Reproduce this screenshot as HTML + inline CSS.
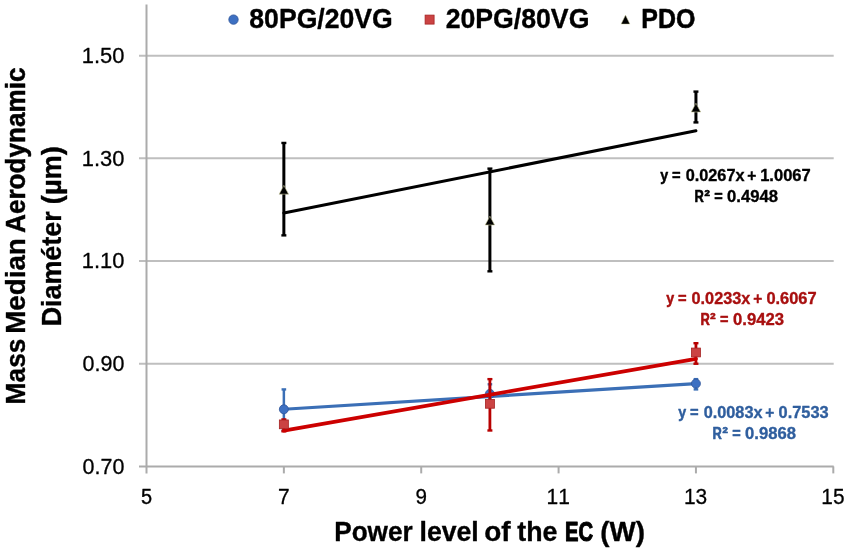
<!DOCTYPE html>
<html><head><meta charset="utf-8"><style>
html,body{margin:0;padding:0;background:#fff;width:850px;height:551px;overflow:hidden}
svg{display:block;font-family:"Liberation Sans", sans-serif;font-kerning:none;filter:blur(0.35px)}
</style></head><body>
<svg width="850" height="551" viewBox="0 0 850 551">
<rect width="850" height="551" fill="#fff"/>
<line x1="139" y1="363.74" x2="833.7" y2="363.74" stroke="#BFBFBF" stroke-width="2"/>
<line x1="139" y1="261.05" x2="833.7" y2="261.05" stroke="#BFBFBF" stroke-width="2"/>
<line x1="139" y1="158.35" x2="833.7" y2="158.35" stroke="#BFBFBF" stroke-width="2"/>
<line x1="139" y1="55.66" x2="833.7" y2="55.66" stroke="#BFBFBF" stroke-width="2"/>
<line x1="139" y1="466.43" x2="833.7" y2="466.43" stroke="#ABABAB" stroke-width="2"/>
<line x1="146.50" y1="4.4" x2="146.50" y2="473.4" stroke="#ABABAB" stroke-width="2"/>
<line x1="283.86" y1="466.43" x2="283.86" y2="473.4" stroke="#ABABAB" stroke-width="2"/>
<line x1="421.22" y1="466.43" x2="421.22" y2="473.4" stroke="#ABABAB" stroke-width="2"/>
<line x1="558.58" y1="466.43" x2="558.58" y2="473.4" stroke="#ABABAB" stroke-width="2"/>
<line x1="695.94" y1="466.43" x2="695.94" y2="473.4" stroke="#ABABAB" stroke-width="2"/>
<line x1="833.30" y1="466.43" x2="833.30" y2="473.4" stroke="#ABABAB" stroke-width="2"/>
<line x1="283.86" y1="389.41" x2="283.86" y2="430.49" stroke="#3B6FB6" stroke-width="2.5"/><line x1="281.56" y1="430.49" x2="286.16" y2="430.49" stroke="#3B6FB6" stroke-width="2.4"/><line x1="281.56" y1="389.41" x2="286.16" y2="389.41" stroke="#3B6FB6" stroke-width="2.4"/>
<line x1="489.90" y1="384.28" x2="489.90" y2="404.81" stroke="#3B6FB6" stroke-width="2.5"/><line x1="487.60" y1="404.81" x2="492.20" y2="404.81" stroke="#3B6FB6" stroke-width="2.4"/><line x1="487.60" y1="384.28" x2="492.20" y2="384.28" stroke="#3B6FB6" stroke-width="2.4"/>
<line x1="695.94" y1="379.14" x2="695.94" y2="389.41" stroke="#3B6FB6" stroke-width="2.5"/><line x1="693.64" y1="389.41" x2="698.24" y2="389.41" stroke="#3B6FB6" stroke-width="2.4"/><line x1="693.64" y1="379.14" x2="698.24" y2="379.14" stroke="#3B6FB6" stroke-width="2.4"/>
<line x1="283.86" y1="409.23" x2="695.94" y2="383.66" stroke="#3B6FB6" stroke-width="3.2" stroke-linecap="round"/>
<circle cx="283.86" cy="409.25" r="4.5" fill="#3D70C2" stroke="#2E5499" stroke-width="0.8"/>
<circle cx="489.90" cy="393.85" r="4.5" fill="#3D70C2" stroke="#2E5499" stroke-width="0.8"/>
<circle cx="695.94" cy="383.58" r="4.5" fill="#3D70C2" stroke="#2E5499" stroke-width="0.8"/>
<line x1="283.86" y1="419.45" x2="283.86" y2="431.26" stroke="#B80000" stroke-width="2.8"/><line x1="281.36" y1="431.26" x2="286.36" y2="431.26" stroke="#B80000" stroke-width="2.4"/><line x1="281.36" y1="419.45" x2="286.36" y2="419.45" stroke="#B80000" stroke-width="2.4"/>
<line x1="489.90" y1="379.14" x2="489.90" y2="430.49" stroke="#B80000" stroke-width="2.8"/><line x1="487.40" y1="430.49" x2="492.40" y2="430.49" stroke="#B80000" stroke-width="2.4"/><line x1="487.40" y1="379.14" x2="492.40" y2="379.14" stroke="#B80000" stroke-width="2.4"/>
<line x1="695.94" y1="343.20" x2="695.94" y2="363.74" stroke="#B80000" stroke-width="2.8"/><line x1="693.44" y1="363.74" x2="698.44" y2="363.74" stroke="#B80000" stroke-width="2.4"/><line x1="693.44" y1="343.20" x2="698.44" y2="343.20" stroke="#B80000" stroke-width="2.4"/>
<line x1="283.86" y1="430.59" x2="695.94" y2="358.81" stroke="#CC0000" stroke-width="3.8" stroke-linecap="round"/>
<rect x="279.36" y="419.95" width="9" height="8.8" fill="#CB4343" stroke="#A52222" stroke-width="0.8"/>
<rect x="485.40" y="399.41" width="9" height="8.8" fill="#CB4343" stroke="#A52222" stroke-width="0.8"/>
<rect x="691.44" y="348.07" width="9" height="8.8" fill="#CB4343" stroke="#A52222" stroke-width="0.8"/>
<line x1="283.86" y1="142.95" x2="283.86" y2="235.37" stroke="#000000" stroke-width="3"/><line x1="281.36" y1="235.37" x2="286.36" y2="235.37" stroke="#000000" stroke-width="2.4"/><line x1="281.36" y1="142.95" x2="286.36" y2="142.95" stroke="#000000" stroke-width="2.4"/>
<line x1="489.90" y1="168.62" x2="489.90" y2="271.32" stroke="#000000" stroke-width="3"/><line x1="487.40" y1="271.32" x2="492.40" y2="271.32" stroke="#000000" stroke-width="2.4"/><line x1="487.40" y1="168.62" x2="492.40" y2="168.62" stroke="#000000" stroke-width="2.4"/>
<line x1="695.94" y1="91.60" x2="695.94" y2="122.41" stroke="#000000" stroke-width="3"/><line x1="693.44" y1="122.41" x2="698.44" y2="122.41" stroke="#000000" stroke-width="2.4"/><line x1="693.44" y1="91.60" x2="698.44" y2="91.60" stroke="#000000" stroke-width="2.4"/>
<line x1="283.86" y1="212.99" x2="695.94" y2="130.73" stroke="#000000" stroke-width="3" stroke-linecap="round"/>
<path d="M279.16,194.16 L283.86,185.36 L288.56,194.16 Z" fill="#000" stroke="#C8C89A" stroke-width="0.6"/>
<path d="M485.20,224.97 L489.90,216.17 L494.60,224.97 Z" fill="#000" stroke="#C8C89A" stroke-width="0.6"/>
<path d="M691.24,112.01 L695.94,103.21 L700.64,112.01 Z" fill="#000" stroke="#C8C89A" stroke-width="0.6"/>
<text x="82.61" y="473.73" font-size="22.2" font-weight="400" fill="#000" stroke="#000" stroke-width="0.30" stroke-linejoin="round" textLength="41.79" lengthAdjust="spacingAndGlyphs">0.70</text>
<text x="82.61" y="371.04" font-size="22.2" font-weight="400" fill="#000" stroke="#000" stroke-width="0.30" stroke-linejoin="round" textLength="41.79" lengthAdjust="spacingAndGlyphs">0.90</text>
<text x="81.78" y="268.35" font-size="22.2" font-weight="400" fill="#000" stroke="#000" stroke-width="0.30" stroke-linejoin="round" textLength="42.63" lengthAdjust="spacingAndGlyphs">1.10</text>
<text x="81.78" y="165.65" font-size="22.2" font-weight="400" fill="#000" stroke="#000" stroke-width="0.30" stroke-linejoin="round" textLength="42.63" lengthAdjust="spacingAndGlyphs">1.30</text>
<text x="81.78" y="62.96" font-size="22.2" font-weight="400" fill="#000" stroke="#000" stroke-width="0.30" stroke-linejoin="round" textLength="42.63" lengthAdjust="spacingAndGlyphs">1.50</text>
<text x="140.98" y="504.00" font-size="22.2" font-weight="400" fill="#000" stroke="#000" stroke-width="0.39" stroke-linejoin="round" textLength="11.09" lengthAdjust="spacingAndGlyphs">5</text>
<text x="278.03" y="504.00" font-size="22.2" font-weight="400" fill="#000" stroke="#000" stroke-width="0.30" stroke-linejoin="round" textLength="11.64" lengthAdjust="spacingAndGlyphs">7</text>
<text x="415.49" y="504.00" font-size="22.2" font-weight="400" fill="#000" stroke="#000" stroke-width="0.30" stroke-linejoin="round" textLength="11.46" lengthAdjust="spacingAndGlyphs">9</text>
<text x="546.62" y="504.00" font-size="22.2" font-weight="400" fill="#000" stroke="#000" stroke-width="0.30" stroke-linejoin="round" textLength="23.34" lengthAdjust="spacingAndGlyphs">11</text>
<text x="683.99" y="504.00" font-size="22.2" font-weight="400" fill="#000" stroke="#000" stroke-width="0.30" stroke-linejoin="round" textLength="23.23" lengthAdjust="spacingAndGlyphs">13</text>
<text x="821.35" y="504.00" font-size="22.2" font-weight="400" fill="#000" stroke="#000" stroke-width="0.30" stroke-linejoin="round" textLength="23.18" lengthAdjust="spacingAndGlyphs">15</text>
<circle cx="233.5" cy="19.6" r="4.7" fill="#3D70C2" stroke="#2E5499" stroke-width="0.8"/>
<text x="249.33" y="28.00" font-size="26.9" font-weight="700" fill="#000" stroke="#000" stroke-width="0.35" stroke-linejoin="round" textLength="143.45" lengthAdjust="spacingAndGlyphs">80PG/20VG</text>
<rect x="425.1" y="15.1" width="9" height="9" fill="#CB4343" stroke="#A52222" stroke-width="0.8"/>
<text x="445.65" y="28.00" font-size="26.9" font-weight="700" fill="#000" stroke="#000" stroke-width="0.35" stroke-linejoin="round" textLength="143.73" lengthAdjust="spacingAndGlyphs">20PG/80VG</text>
<path d="M621.1,24.1 L625.5,15.1 L629.9,24.1 Z" fill="#000" stroke="#D4D4A8" stroke-width="0.5"/>
<text x="641.37" y="28.00" font-size="26.9" font-weight="700" fill="#000" stroke="#000" stroke-width="0.51" stroke-linejoin="round" textLength="54.05" lengthAdjust="spacingAndGlyphs">PDO</text>
<text x="334.22" y="540.60" font-size="27.6" font-weight="700" fill="#000" stroke="#000" stroke-width="0.35" stroke-linejoin="round" textLength="78.41" lengthAdjust="spacingAndGlyphs">Power</text>
<text x="419.51" y="540.60" font-size="27.6" font-weight="700" fill="#000" stroke="#000" stroke-width="0.35" stroke-linejoin="round" textLength="59.21" lengthAdjust="spacingAndGlyphs">level</text>
<text x="484.19" y="540.60" font-size="27.6" font-weight="700" fill="#000" stroke="#000" stroke-width="0.35" stroke-linejoin="round" textLength="26.38" lengthAdjust="spacingAndGlyphs">of</text>
<text x="517.24" y="540.60" font-size="27.6" font-weight="700" fill="#000" stroke="#000" stroke-width="0.35" stroke-linejoin="round" textLength="40.10" lengthAdjust="spacingAndGlyphs">the</text>
<text x="565.05" y="540.60" font-size="27.6" font-weight="700" fill="#000" stroke="#000" stroke-width="1.10" stroke-linejoin="round" textLength="28.10" lengthAdjust="spacingAndGlyphs">EC</text>
<text x="600.19" y="540.60" font-size="27.6" font-weight="700" fill="#000" stroke="#000" stroke-width="0.35" stroke-linejoin="round" textLength="44.71" lengthAdjust="spacingAndGlyphs">(W)</text>
<g transform="translate(24.8,0) rotate(-90)"><text x="-404.39" y="0.00" font-size="27.6" font-weight="700" fill="#000" stroke="#000" stroke-width="0.35" stroke-linejoin="round" textLength="65.81" lengthAdjust="spacingAndGlyphs">Mass</text><text x="-333.78" y="0.00" font-size="27.6" font-weight="700" fill="#000" stroke="#000" stroke-width="0.35" stroke-linejoin="round" textLength="95.52" lengthAdjust="spacingAndGlyphs">Median</text><text x="-232.92" y="0.00" font-size="27.6" font-weight="700" fill="#000" stroke="#000" stroke-width="0.48" stroke-linejoin="round" textLength="165.36" lengthAdjust="spacingAndGlyphs">Aerodynamic</text></g>
<g transform="translate(61.2,0) rotate(-90)"><text x="-326.33" y="0.00" font-size="27.6" font-weight="700" fill="#000" stroke="#000" stroke-width="0.35" stroke-linejoin="round" textLength="114.96" lengthAdjust="spacingAndGlyphs">Diaméter</text><text x="-204.18" y="0.00" font-size="27.6" font-weight="700" fill="#000" stroke="#000" stroke-width="0.35" stroke-linejoin="round" textLength="58.07" lengthAdjust="spacingAndGlyphs">(µm)</text></g>
<text x="660.30" y="180.50" font-size="16.8" font-weight="700" fill="#000" stroke="#000" stroke-width="0.51" stroke-linejoin="round" textLength="7.96" lengthAdjust="spacingAndGlyphs">y</text><text x="671.99" y="180.50" font-size="16.8" font-weight="700" fill="#000" stroke="#000" stroke-width="0.46" stroke-linejoin="round" textLength="8.61" lengthAdjust="spacingAndGlyphs">=</text><text x="685.63" y="180.50" font-size="16.8" font-weight="700" fill="#000" stroke="#000" stroke-width="0.35" stroke-linejoin="round" textLength="58.92" lengthAdjust="spacingAndGlyphs">0.0267x</text><text x="747.31" y="180.50" font-size="16.8" font-weight="700" fill="#000" stroke="#000" stroke-width="0.35" stroke-linejoin="round" textLength="9.06" lengthAdjust="spacingAndGlyphs">+</text><text x="760.13" y="180.50" font-size="16.8" font-weight="700" fill="#000" stroke="#000" stroke-width="0.35" stroke-linejoin="round" textLength="50.63" lengthAdjust="spacingAndGlyphs">1.0067</text><text x="694.49" y="201.90" font-size="16.8" font-weight="700" fill="#000" stroke="#000" stroke-width="0.67" stroke-linejoin="round" textLength="9.31" lengthAdjust="spacingAndGlyphs">R</text><text x="714.21" y="201.90" font-size="16.8" font-weight="700" fill="#000" stroke="#000" stroke-width="0.48" stroke-linejoin="round" textLength="8.48" lengthAdjust="spacingAndGlyphs">=</text><text x="727.11" y="201.90" font-size="16.8" font-weight="700" fill="#000" stroke="#000" stroke-width="0.35" stroke-linejoin="round" textLength="50.92" lengthAdjust="spacingAndGlyphs">0.4948</text><text x="704.44" y="195.80" font-size="9.0" font-weight="700" fill="#000" stroke="#000" stroke-width="0.70" stroke-linejoin="round" textLength="5.37" lengthAdjust="spacingAndGlyphs">2</text>
<text x="666.20" y="303.80" font-size="16.8" font-weight="700" fill="#A80F0F" stroke="#A80F0F" stroke-width="0.51" stroke-linejoin="round" textLength="7.96" lengthAdjust="spacingAndGlyphs">y</text><text x="677.89" y="303.80" font-size="16.8" font-weight="700" fill="#A80F0F" stroke="#A80F0F" stroke-width="0.46" stroke-linejoin="round" textLength="8.61" lengthAdjust="spacingAndGlyphs">=</text><text x="691.53" y="303.80" font-size="16.8" font-weight="700" fill="#A80F0F" stroke="#A80F0F" stroke-width="0.35" stroke-linejoin="round" textLength="58.92" lengthAdjust="spacingAndGlyphs">0.0233x</text><text x="753.21" y="303.80" font-size="16.8" font-weight="700" fill="#A80F0F" stroke="#A80F0F" stroke-width="0.35" stroke-linejoin="round" textLength="9.06" lengthAdjust="spacingAndGlyphs">+</text><text x="766.42" y="303.80" font-size="16.8" font-weight="700" fill="#A80F0F" stroke="#A80F0F" stroke-width="0.35" stroke-linejoin="round" textLength="50.23" lengthAdjust="spacingAndGlyphs">0.6067</text><text x="700.39" y="325.20" font-size="16.8" font-weight="700" fill="#A80F0F" stroke="#A80F0F" stroke-width="0.67" stroke-linejoin="round" textLength="9.31" lengthAdjust="spacingAndGlyphs">R</text><text x="720.11" y="325.20" font-size="16.8" font-weight="700" fill="#A80F0F" stroke="#A80F0F" stroke-width="0.48" stroke-linejoin="round" textLength="8.48" lengthAdjust="spacingAndGlyphs">=</text><text x="733.01" y="325.20" font-size="16.8" font-weight="700" fill="#A80F0F" stroke="#A80F0F" stroke-width="0.35" stroke-linejoin="round" textLength="51.01" lengthAdjust="spacingAndGlyphs">0.9423</text><text x="710.34" y="319.10" font-size="9.0" font-weight="700" fill="#A80F0F" stroke="#A80F0F" stroke-width="0.70" stroke-linejoin="round" textLength="5.37" lengthAdjust="spacingAndGlyphs">2</text>
<text x="678.30" y="418.40" font-size="16.8" font-weight="700" fill="#2F5E9E" stroke="#2F5E9E" stroke-width="0.51" stroke-linejoin="round" textLength="7.96" lengthAdjust="spacingAndGlyphs">y</text><text x="689.99" y="418.40" font-size="16.8" font-weight="700" fill="#2F5E9E" stroke="#2F5E9E" stroke-width="0.46" stroke-linejoin="round" textLength="8.61" lengthAdjust="spacingAndGlyphs">=</text><text x="703.63" y="418.40" font-size="16.8" font-weight="700" fill="#2F5E9E" stroke="#2F5E9E" stroke-width="0.35" stroke-linejoin="round" textLength="58.92" lengthAdjust="spacingAndGlyphs">0.0083x</text><text x="765.31" y="418.40" font-size="16.8" font-weight="700" fill="#2F5E9E" stroke="#2F5E9E" stroke-width="0.35" stroke-linejoin="round" textLength="9.06" lengthAdjust="spacingAndGlyphs">+</text><text x="778.52" y="418.40" font-size="16.8" font-weight="700" fill="#2F5E9E" stroke="#2F5E9E" stroke-width="0.35" stroke-linejoin="round" textLength="50.10" lengthAdjust="spacingAndGlyphs">0.7533</text><text x="712.49" y="438.80" font-size="16.8" font-weight="700" fill="#2F5E9E" stroke="#2F5E9E" stroke-width="0.67" stroke-linejoin="round" textLength="9.31" lengthAdjust="spacingAndGlyphs">R</text><text x="732.21" y="438.80" font-size="16.8" font-weight="700" fill="#2F5E9E" stroke="#2F5E9E" stroke-width="0.48" stroke-linejoin="round" textLength="8.48" lengthAdjust="spacingAndGlyphs">=</text><text x="745.11" y="438.80" font-size="16.8" font-weight="700" fill="#2F5E9E" stroke="#2F5E9E" stroke-width="0.35" stroke-linejoin="round" textLength="50.92" lengthAdjust="spacingAndGlyphs">0.9868</text><text x="722.44" y="432.70" font-size="9.0" font-weight="700" fill="#2F5E9E" stroke="#2F5E9E" stroke-width="0.70" stroke-linejoin="round" textLength="5.37" lengthAdjust="spacingAndGlyphs">2</text>
</svg>
</body></html>
